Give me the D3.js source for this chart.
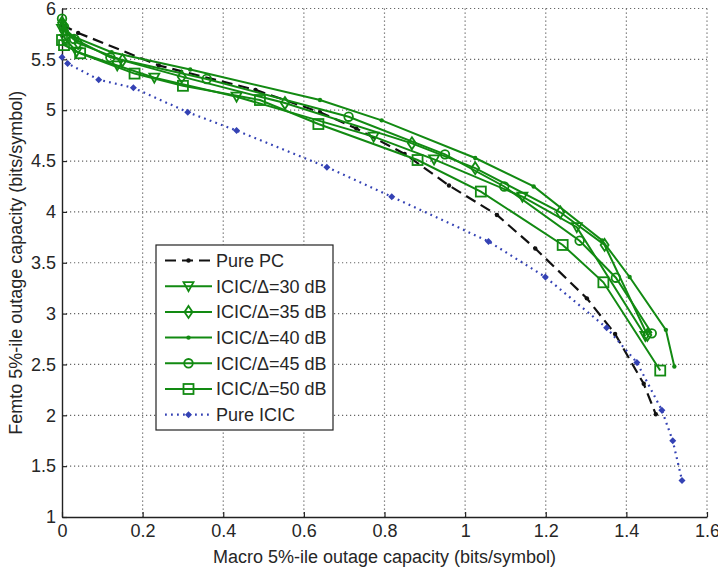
<!DOCTYPE html>
<html>
<head>
<meta charset="utf-8">
<script src="https://cdn.jsdelivr.net/npm/d3@7/dist/d3.min.js"></script>
<style>
  html, body { margin: 0; padding: 0; background: #fff; }
  svg { display: block; font-family: "Liberation Sans", Arial, sans-serif; }
</style>
</head>
<body>
<svg id="chart" width="718" height="573"></svg>
<script>
// Macro vs femto 5%-ile outage capacity trade-off curves
const xTicks = [0, 0.2, 0.4, 0.6, 0.8, 1, 1.2, 1.4, 1.6];
const xTickLabels = ["0", "0.2", "0.4", "0.6", "0.8", "1", "1.2", "1.4", "1.6"];
const yTicks = [1, 1.5, 2, 2.5, 3, 3.5, 4, 4.5, 5, 5.5, 6];
const yTickLabels = ["1", "1.5", "2", "2.5", "3", "3.5", "4", "4.5", "5", "5.5", "6"];

const seriesNames = ["Pure PC", "ICIC/\u0394=30 dB", "ICIC/\u0394=35 dB", "ICIC/\u0394=40 dB",
                     "ICIC/\u0394=45 dB", "ICIC/\u0394=50 dB", "Pure ICIC"];

const purePcX = [0, 0.04, 0.24, 0.48, 0.64, 0.73, 0.85, 0.96, 1.079, 1.174, 1.302, 1.372, 1.443, 1.473];
const purePcY = [5.84, 5.76, 5.44, 5.20, 4.98, 4.82, 4.57, 4.26, 3.97, 3.64, 3.15, 2.80, 2.31, 2.01];

const icic30X = [0, 0.008, 0.036, 0.137, 0.229, 0.433, 0.773, 0.923, 1.142, 1.277, 1.447];
const icic30Y = [5.80, 5.70, 5.575, 5.44, 5.32, 5.133, 4.74, 4.517, 4.149, 3.85, 2.78];

const icic35X = [0, 0.005, 0.04, 0.15, 0.297, 0.553, 0.868, 1.025, 1.236, 1.346, 1.452];
const icic35Y = [5.86, 5.78, 5.66, 5.49, 5.33, 5.07, 4.674, 4.43, 3.996, 3.675, 2.79];

const icic40X = [0, 0.005, 0.03, 0.123, 0.318, 0.64, 0.793, 1.025, 1.17, 1.34, 1.408, 1.498, 1.519];
const icic40Y = [5.88, 5.80, 5.72, 5.57, 5.40, 5.10, 4.90, 4.53, 4.25, 3.72, 3.36, 2.84, 2.48];

const icic45X = [0, 0.005, 0.03, 0.12, 0.359, 0.711, 0.95, 1.097, 1.284, 1.374, 1.463];
const icic45Y = [5.90, 5.82, 5.70, 5.52, 5.307, 4.936, 4.566, 4.25, 3.717, 3.353, 2.806];

const icic50X = [0, 0.005, 0.045, 0.18, 0.30, 0.491, 0.636, 0.882, 1.039, 1.242, 1.343, 1.484];
const icic50Y = [5.69, 5.64, 5.56, 5.36, 5.24, 5.10, 4.864, 4.51, 4.20, 3.675, 3.308, 2.44];

const pureIcicX = [0, 0.014, 0.091, 0.177, 0.312, 0.433, 0.657, 0.818, 1.058, 1.199, 1.351, 1.426, 1.488, 1.515, 1.538];
const pureIcicY = [5.52, 5.46, 5.30, 5.22, 4.98, 4.80, 4.44, 4.15, 3.71, 3.36, 2.86, 2.52, 2.05, 1.75, 1.36];

const green = "#128a12";
const black = "#111";
const blue = "#3442b4";
const textColor = "#262626";

const styles = [
  { x: purePcX,  y: purePcY,  color: black, width: 2.2, dash: "11,6", marker: "dot" },
  { x: icic30X,  y: icic30Y,  color: green, width: 2,   dash: null,   marker: "tri" },
  { x: icic35X,  y: icic35Y,  color: green, width: 2,   dash: null,   marker: "diamond" },
  { x: icic40X,  y: icic40Y,  color: green, width: 2,   dash: null,   marker: "dot" },
  { x: icic45X,  y: icic45Y,  color: green, width: 2,   dash: null,   marker: "circle" },
  { x: icic50X,  y: icic50Y,  color: green, width: 2,   dash: null,   marker: "square" },
  { x: pureIcicX, y: pureIcicY, color: blue, width: 2.2, dash: "1.8,4.2", marker: "fdiamond" }
];

const svg = d3.select("#chart");
const plotLeft = 62, plotRight = 707, plotTop = 8.5, plotBottom = 517;
const x = d3.scaleLinear().domain([0, 1.6]).range([plotLeft, plotRight]);
const y = d3.scaleLinear().domain([1, 6]).range([plotBottom, plotTop]);

// dotted grid
const grid = svg.append("g").attr("stroke", "#666").attr("stroke-width", 1.2)
  .attr("stroke-dasharray", "1.2,2.8").attr("fill", "none");
xTicks.filter(v => v > 0).forEach(v => {
  grid.append("line").attr("x1", x(v)).attr("x2", x(v)).attr("y1", plotTop).attr("y2", plotBottom);
});
yTicks.filter(v => v > 1).forEach(v => {
  grid.append("line").attr("x1", plotLeft).attr("x2", plotRight).attr("y1", y(v)).attr("y2", y(v));
});

// axes with inward ticks
const xAxis = d3.axisBottom(x).tickValues(xTicks)
  .tickFormat((d, i) => xTickLabels[i]).tickSizeInner(-5).tickSizeOuter(0).tickPadding(7);
const yAxis = d3.axisLeft(y).tickValues(yTicks)
  .tickFormat((d, i) => yTickLabels[i]).tickSizeInner(-5).tickSizeOuter(0).tickPadding(6);

const gx = svg.append("g").attr("transform", `translate(0,${plotBottom})`).call(xAxis);
const gy = svg.append("g").attr("transform", `translate(${plotLeft},0)`).call(yAxis);
[gx, gy].forEach(g => {
  g.select(".domain").attr("stroke", "#222").attr("stroke-width", 1.4);
  g.selectAll(".tick line").attr("stroke", "#222").attr("stroke-width", 1.2);
  g.selectAll(".tick text").attr("fill", textColor)
    .style("font-size", "18px").style("font-family", "'Liberation Sans', Arial, sans-serif");
});

// axis titles
svg.append("text").attr("x", (plotLeft + plotRight) / 2).attr("y", 563)
  .attr("text-anchor", "middle").attr("fill", textColor).style("font-size", "18px")
  .text("Macro 5%-ile outage capacity (bits/symbol)");
svg.append("text").attr("transform", `translate(22,${(plotTop + plotBottom) / 2}) rotate(-90)`)
  .attr("text-anchor", "middle").attr("fill", textColor).style("font-size", "18px")
  .text("Femto 5%-ile outage capacity (bits/symbol)");

// marker drawing
function drawMarker(g, type, cx, cy, color) {
  switch (type) {
    case "dot":
      g.append("circle").attr("cx", cx).attr("cy", cy).attr("r", 2.2).attr("fill", color);
      break;
    case "tri":
      g.append("path").attr("d", `M${cx - 5},${cy - 4} L${cx + 5},${cy - 4} L${cx},${cy + 5} Z`)
        .attr("fill", "none").attr("stroke", color).attr("stroke-width", 1.8);
      break;
    case "diamond":
      g.append("path").attr("d", `M${cx},${cy - 6} L${cx + 4},${cy} L${cx},${cy + 6} L${cx - 4},${cy} Z`)
        .attr("fill", "none").attr("stroke", color).attr("stroke-width", 1.8);
      break;
    case "circle":
      g.append("circle").attr("cx", cx).attr("cy", cy).attr("r", 4.3)
        .attr("fill", "none").attr("stroke", color).attr("stroke-width", 1.8);
      break;
    case "square":
      g.append("rect").attr("x", cx - 5).attr("y", cy - 5).attr("width", 10).attr("height", 10)
        .attr("fill", "none").attr("stroke", color).attr("stroke-width", 1.8);
      break;
    case "fdiamond":
      g.append("path").attr("d", `M${cx},${cy - 3.5} L${cx + 3.5},${cy} L${cx},${cy + 3.5} L${cx - 3.5},${cy} Z`)
        .attr("fill", color);
      break;
  }
}

const line = d3.line().x(d => x(d[0])).y(d => y(d[1]));

styles.forEach((s, i) => {
  const pts = s.x.map((v, j) => [v, s.y[j]]);
  const g = svg.append("g");
  g.append("path").datum(pts).attr("d", line).attr("fill", "none")
    .attr("stroke", s.color).attr("stroke-width", s.width)
    .attr("stroke-dasharray", s.dash);
  pts.forEach(p => drawMarker(g, s.marker, x(p[0]), y(p[1]), s.color));
});

// legend
const lg = svg.append("g");
lg.append("rect").attr("x", 156).attr("y", 245).attr("width", 177).attr("height", 185)
  .attr("fill", "#fff").attr("stroke", "#222").attr("stroke-width", 1.2);
seriesNames.forEach((name, i) => {
  const s = styles[i];
  const ly = 260.5 + i * 25.7;
  lg.append("line").attr("x1", 165).attr("x2", 212).attr("y1", ly).attr("y2", ly)
    .attr("stroke", s.color).attr("stroke-width", s.width).attr("stroke-dasharray", s.dash);
  drawMarker(lg, s.marker, 188.5, ly, s.color);
  lg.append("text").attr("x", 216).attr("y", ly).attr("dy", "0.36em")
    .attr("fill", textColor).style("font-size", "18px").text(name);
});
</script>
</body>
</html>
